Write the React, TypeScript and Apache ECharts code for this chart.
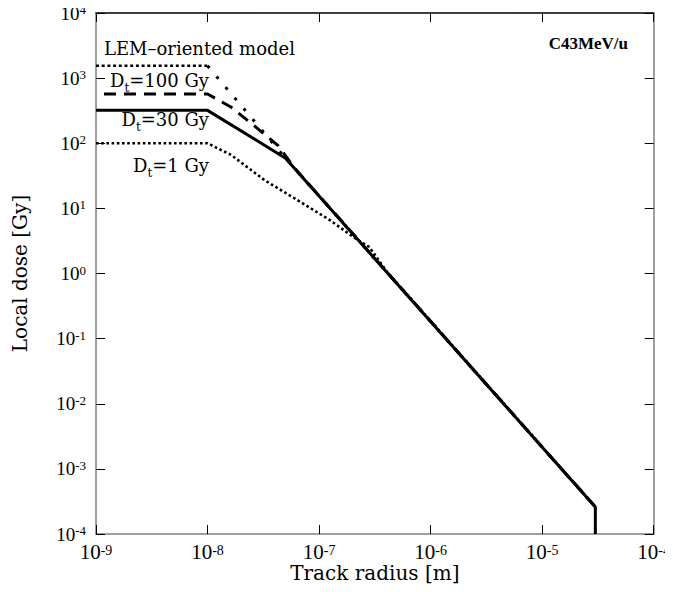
import React, { useEffect, useRef } from "react";
import * as echarts from "echarts";

// Track radius [m] and local dose [Gy]
const dt30Radius = [1e-9, 1e-8, 5e-8, 3e-5, 3e-5];
const dt30Dose = [320, 320, 59, 2.6e-4, 1e-4];

const dt100Radius = [1e-9, 1e-8, 1.62e-8, 2.45e-8, 4.27e-8, 6e-8, 3e-5];
const dt100Dose = [570, 570, 360, 204, 93, 42, 2.6e-4];

const lemRadius = [1e-9, 1e-8, 5e-8, 3e-5];
const lemDose = [1550, 1550, 59, 2.6e-4];

const dt1Radius = [1e-9, 1e-8, 1.63e-8, 3.26e-8, 6.4e-8, 1.25e-7, 2.04e-7, 2.82e-7, 4e-7, 3e-5];
const dt1Dose = [100, 100, 66, 27, 13.4, 6.6, 3.6, 2.55, 1.1, 2.6e-4];

const xRange = [1e-9, 1e-4];
const yRange = [1e-4, 1e4];

const annotations = [
  { text: "{n|LEM\u2013oriented model}", x: 104, y: 48, align: "left" },
  { text: "{n|D}{sub|t}{n|=100 Gy}", x: 209, y: 80, align: "right" },
  { text: "{n|D}{sub|t}{n|=30 Gy}", x: 209, y: 119, align: "right" },
  { text: "{n|D}{sub|t}{n|=1 Gy}", x: 209, y: 165, align: "right" },
];

const WORD_FONT = "DejaVu Serif";
const NUM_FONT = "Liberation Serif";

const zip = (xs: number[], ys: number[]) => xs.map((x, i) => [x, ys[i]]);

export default function App() {
  const ref = useRef<HTMLDivElement>(null);
  useEffect(() => {
    if (!ref.current) return;
    const chart = echarts.init(ref.current, undefined, { renderer: "svg" });
    const expFmt = (v: number) => {
      const e = Math.round(Math.log10(v));
      return `{base|10}{sup|${e}}`;
    };
    const xRich = {
      base: { fontFamily: NUM_FONT, fontSize: 21, color: "#000", lineHeight: 18 },
      sup: { fontFamily: NUM_FONT, fontSize: 14, color: "#000", lineHeight: 10, verticalAlign: "top" },
    };
    const yRich = {
      base: { fontFamily: NUM_FONT, fontSize: 19, color: "#000", lineHeight: 20 },
      sup: { fontFamily: NUM_FONT, fontSize: 13, color: "#000", lineHeight: 12, verticalAlign: "top" },
    };
    const grayLine = { color: "#808080", width: 1.5 };
    const tick = { inside: true, length: 9, lineStyle: { color: "#000", width: 1 } };
    const lemPts = zip(lemRadius, lemDose);
    const option: any = {
      animation: false,
      backgroundColor: "#fff",
      title: {
        text: "C43MeV/u",
        right: 40,
        top: 30,
        textStyle: { fontFamily: NUM_FONT, fontWeight: "bold", fontSize: 17, color: "#000" },
      },
      grid: { left: 96, right: 12, top: 13, bottom: 58 },
      xAxis: [
        {
          type: "log",
          logBase: 10,
          min: xRange[0],
          max: xRange[1],
          position: "bottom",
          axisLine: { show: true, lineStyle: grayLine },
          axisTick: tick,
          minorTick: { show: false },
          splitLine: { show: false },
          axisLabel: {
            formatter: expFmt,
            rich: xRich,
            margin: 9,
            fontFamily: NUM_FONT,
            fontSize: 21,
            color: "#000",
          },
          name: "Track radius [m]",
          nameLocation: "middle",
          nameGap: 29,
          nameMoveOverlap: false,
          nameTextStyle: { fontFamily: WORD_FONT, fontSize: 20, lineHeight: 20, color: "#000" },
        },
        {
          type: "log",
          logBase: 10,
          min: xRange[0],
          max: xRange[1],
          position: "top",
          axisLine: { show: true, lineStyle: { color: "#000", width: 1.5 } },
          axisTick: tick,
          minorTick: { show: false },
          splitLine: { show: false },
          axisLabel: { show: false },
        },
      ],
      yAxis: [
        {
          type: "log",
          logBase: 10,
          min: yRange[0],
          max: yRange[1],
          position: "left",
          axisLine: { show: true, lineStyle: grayLine },
          axisTick: tick,
          minorTick: { show: false },
          splitLine: { show: false },
          axisLabel: {
            formatter: expFmt,
            rich: yRich,
            margin: 10,
            fontFamily: NUM_FONT,
            fontSize: 19,
            color: "#000",
          },
          name: "Local dose [Gy]",
          nameLocation: "middle",
          nameGap: 66,
          nameMoveOverlap: false,
          nameTextStyle: { fontFamily: WORD_FONT, fontSize: 20, color: "#000" },
        },
        {
          type: "log",
          logBase: 10,
          min: yRange[0],
          max: yRange[1],
          position: "right",
          axisLine: { show: true, lineStyle: grayLine },
          axisTick: tick,
          minorTick: { show: false },
          splitLine: { show: false },
          axisLabel: { show: false },
        },
      ],
      series: [
        {
          name: "D_t=1 Gy",
          type: "line",
          data: zip(dt1Radius, dt1Dose),
          symbol: "none",
          lineStyle: { color: "#000", width: 2.6, type: [2.6, 2.6] },
          z: 2,
        },
        {
          name: "LEM-oriented model (flat)",
          type: "line",
          data: lemPts.slice(0, 2),
          symbol: "none",
          lineStyle: { color: "#000", width: 2.6, type: [3, 2.7] },
          z: 2,
        },
        {
          name: "LEM-oriented model",
          type: "line",
          data: lemPts.slice(1),
          symbol: "none",
          lineStyle: { color: "#000", width: 3, type: [3, 11] },
          z: 2,
        },
        {
          name: "D_t=100 Gy",
          type: "line",
          data: zip(dt100Radius, dt100Dose),
          symbol: "none",
          lineStyle: { color: "#000", width: 3, type: [12, 8], dashOffset: 12 },
          z: 3,
        },
        {
          name: "D_t=30 Gy",
          type: "line",
          data: zip(dt30Radius, dt30Dose),
          symbol: "none",
          lineStyle: { color: "#000", width: 3, type: "solid" },
          z: 4,
        },
      ],
      graphic: annotations.map((a) => ({
        type: "text",
        x: a.x,
        y: a.y,
        z: 10,
        style: {
          text: a.text,
          fill: "#000",
          fontFamily: WORD_FONT,
          fontSize: 18,
          align: a.align,
          verticalAlign: "middle",
          rich: {
            n: { fontFamily: WORD_FONT, fontSize: 18, fill: "#000", lineHeight: 28 },
            sub: { fontFamily: WORD_FONT, fontSize: 12, fill: "#000", lineHeight: 12, verticalAlign: "bottom" },
          },
        },
      })),
    };
    chart.setOption(option);
    return () => chart.dispose();
  }, []);
  return <div ref={ref} style={{ width: 673, height: 592, margin: -8 }} />;
}
